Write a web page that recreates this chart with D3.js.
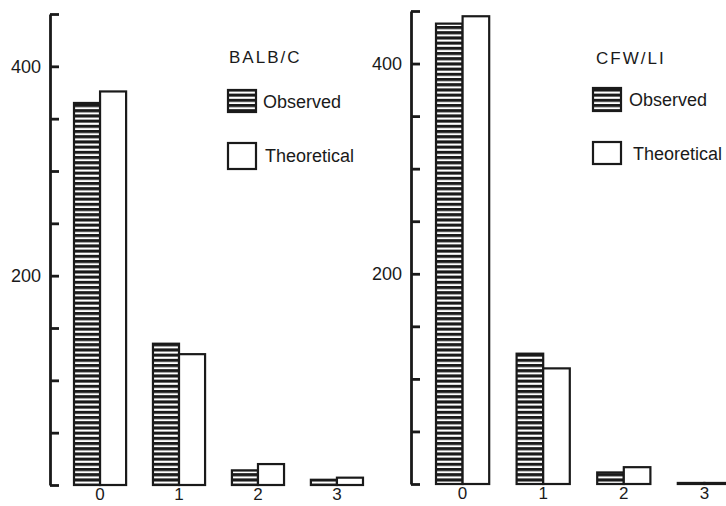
<!DOCTYPE html>
<html>
<head>
<meta charset="utf-8">
<title>Observed vs theoretical</title>
<style>
  body { margin: 0; background: #fff; }
  svg { display: block; font-family: "Liberation Sans", Arial, sans-serif; }
  .axis path, .axis line { stroke: #1a1a1a; stroke-width: 2.8px; }
  .axis text { font-size: 18px; fill: #1a1a1a; }
  .xaxis text { font-size: 17px; fill: #1a1a1a; }
  .bar { stroke: #1a1a1a; stroke-width: 2.2px; }
  .title { font-size: 17px; letter-spacing: 2px; fill: #1a1a1a; }
  .legend text { font-size: 18px; fill: #1a1a1a; }
</style>
<script src="https://cdn.jsdelivr.net/npm/d3@7"></script>
</head>
<body>
<svg id="chart" width="726" height="506"></svg>
<script>
// data
var categories = ["0", "1", "2", "3"];
var seriesNames = ["Observed", "Theoretical"];
var balbObserved = [365, 135, 14, 5];
var balbTheoretical = [376, 125, 20, 7];
var cfwObserved = [438, 124, 11, 1];
var cfwTheoretical = [445, 110, 16, 1];
var yTicks = [0, 50, 100, 150, 200, 250, 300, 350, 400, 450];
var yLabels = [200, 400];

var svg = d3.select("#chart");

// horizontal hatching for the observed bars
svg.append("defs").append("pattern")
  .attr("id", "hatch")
  .attr("patternUnits", "userSpaceOnUse")
  .attr("width", 10).attr("height", 5.2)
  .call(function(p) {
    p.append("rect").attr("width", 10).attr("height", 5.2).attr("fill", "#fff");
    p.append("rect").attr("width", 10).attr("height", 3.1).attr("fill", "#1a1a1a");
  });

function fillFor(name) {
  return name === "Observed" ? "url(#hatch)" : "#fff";
}

var panels = [
  { title: "BALB/C", obs: balbObserved, theo: balbTheoretical,
    axisX: 50, yRange: [485, 14], xRange: [74, 363],
    titleX: 229, titleY: 63,
    legend: [{ x: 228, y: 90, h: 22, tx: 263, ty: 108 }, { x: 228, y: 143, h: 26, tx: 265, ty: 162 }] },
  { title: "CFW/LI", obs: cfwObserved, theo: cfwTheoretical,
    axisX: 411, yRange: [484, 11], xRange: [436, 731],
    titleX: 596, titleY: 64,
    legend: [{ x: 593, y: 88, h: 23, tx: 629, ty: 106 }, { x: 593, y: 142, h: 22, tx: 633, ty: 160 }] }
];

panels.forEach(function(pn) {
  var g = svg.append("g");

  var y = d3.scaleLinear().domain([0, 450]).range(pn.yRange);
  var x = d3.scaleBand().domain(categories).range(pn.xRange).paddingInner(0.34).paddingOuter(0);
  var xs = d3.scaleBand().domain(seriesNames).range([0, x.bandwidth()]);

  var rows = categories.map(function(c, i) {
    return { cat: c, values: [
      { name: "Observed", v: pn.obs[i] },
      { name: "Theoretical", v: pn.theo[i] }
    ] };
  });

  g.selectAll(".grp")
    .data(rows)
    .enter().append("g")
    .attr("transform", function(d) { return "translate(" + x(d.cat) + ",0)"; })
    .selectAll("rect")
    .data(function(d) { return d.values; })
    .enter().append("rect")
    .attr("class", "bar")
    .attr("x", function(d) { return xs(d.name); })
    .attr("width", xs.bandwidth())
    .attr("y", function(d) { return y(d.v); })
    .attr("height", function(d) { return y(0) - y(d.v); })
    .attr("fill", function(d) { return fillFor(d.name); });

  // y axis, ticks pointing inward
  g.append("g")
    .attr("class", "axis")
    .attr("transform", "translate(" + pn.axisX + ",0)")
    .call(d3.axisLeft(y)
      .tickValues(yTicks)
      .tickSizeInner(-9)
      .tickSizeOuter(0)
      .tickPadding(9)
      .tickFormat(function(d) { return yLabels.indexOf(d) >= 0 ? d : ""; }));

  // category labels
  var xa = g.append("g")
    .attr("class", "xaxis")
    .attr("transform", "translate(0," + y(0) + ")")
    .call(d3.axisBottom(x).tickSize(0).tickPadding(3));
  xa.select(".domain").remove();

  g.append("text")
    .attr("class", "title")
    .attr("x", pn.titleX).attr("y", pn.titleY)
    .text(pn.title);

  var lg = g.append("g").attr("class", "legend");
  seriesNames.forEach(function(name, i) {
    var L = pn.legend[i];
    lg.append("rect")
      .attr("class", "bar")
      .attr("x", L.x).attr("y", L.y)
      .attr("width", 28).attr("height", L.h)
      .attr("fill", fillFor(name));
    lg.append("text")
      .attr("x", L.tx).attr("y", L.ty)
      .text(name);
  });
});
</script>
</body>
</html>
